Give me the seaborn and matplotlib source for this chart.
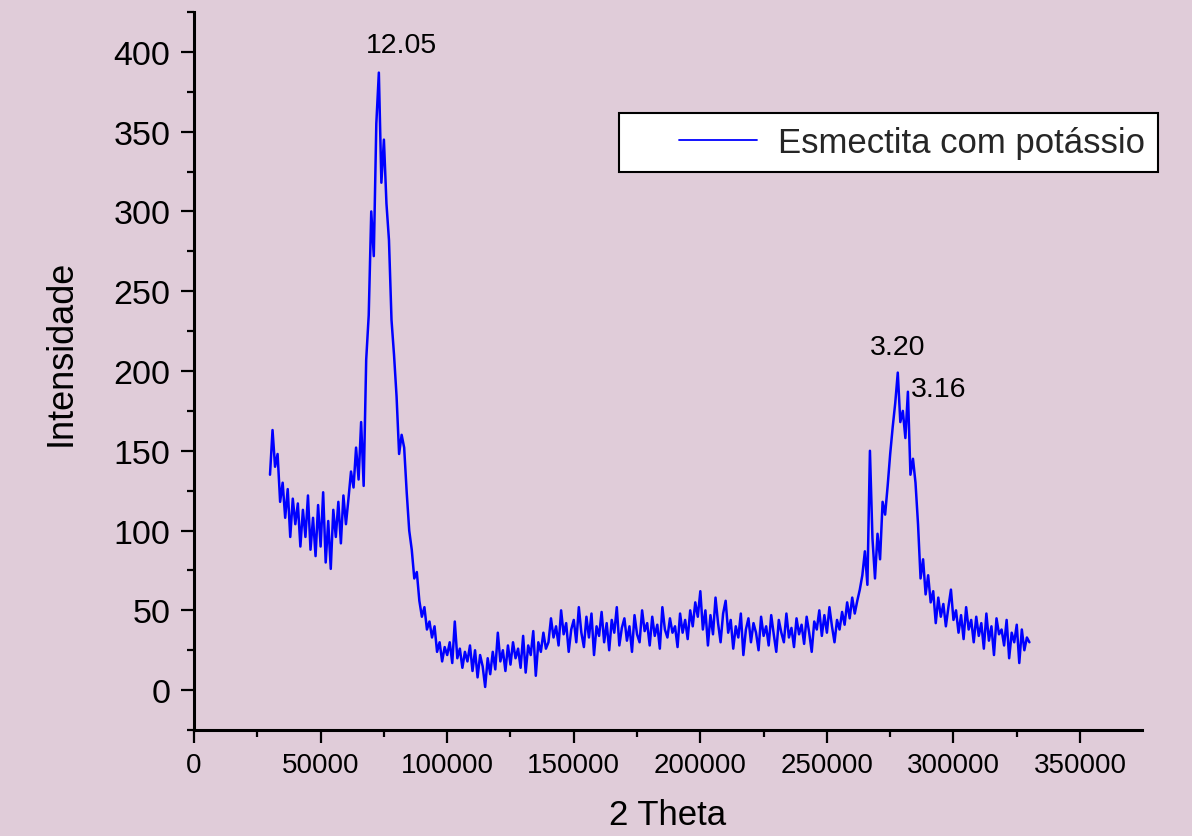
import numpy as np
import pandas as pd
import matplotlib
matplotlib.use("Agg")
import matplotlib.pyplot as plt
from matplotlib.ticker import MultipleLocator
import seaborn as sns

# 2 Theta positions, one reading every 1000 from 30000 to 330000
theta = np.arange(30000, 331000, 1000)

# intensities, ten per row (one row = 10000 on the x axis)
intensity = [
    135, 163, 140, 148, 118, 130, 108, 126, 96, 120,
    104, 117, 90, 113, 96, 122, 88, 108, 84, 116,
    90, 124, 80, 106, 76, 113, 96, 118, 92, 122,
    104, 120, 137, 127, 152, 132, 168, 128, 207, 235,
    300, 272, 355, 387, 318, 345, 305, 282, 232, 210,
    184, 148, 160, 152, 124, 100, 88, 70, 74, 56,
    46, 52, 38, 43, 33, 40, 24, 30, 18, 27,
    22, 30, 17, 43, 20, 26, 14, 24, 18, 28,
    12, 25, 8, 22, 15, 2, 20, 10, 24, 13,
    36, 18, 25, 12, 28, 16, 30, 20, 26, 14,
    34, 11, 28, 22, 37, 9, 30, 24, 36, 26,
    30, 45, 33, 40, 28, 50, 35, 42, 24, 38,
    44, 30, 52, 36, 27, 46, 33, 48, 22, 40,
    34, 49, 30, 42, 25, 44, 36, 52, 28, 39,
    45, 31, 40, 24, 47, 35, 30, 50, 37, 42,
    28, 46, 34, 41, 26, 52, 38, 33, 45, 36,
    40, 27, 48, 36, 44, 32, 50, 40, 55, 46,
    62, 38, 50, 28, 47, 35, 58, 42, 30, 48,
    56, 36, 44, 26, 40, 33, 48, 22, 38, 45,
    30, 42, 36, 25, 46, 34, 40, 28, 47, 35,
    24, 44, 36, 30, 48, 33, 39, 27, 45, 35,
    41, 29, 46, 36, 24, 43, 38, 50, 34, 47,
    36, 52, 40, 30, 44, 38, 49, 41, 55, 45,
    58, 48, 56, 63, 72, 87, 66, 150, 95, 70,
    98, 82, 118, 110, 128, 148, 165, 180, 199, 168,
    175, 158, 187, 135, 145, 130, 104, 70, 82, 60,
    72, 55, 62, 42, 58, 46, 54, 40, 52, 63,
    44, 50, 36, 47, 32, 52, 38, 44, 30, 46,
    34, 42, 26, 48, 31, 40, 22, 45, 35, 38,
    28, 44, 20, 36, 30, 41, 17, 38, 25, 33,
    30,
]

# peak labels (d-spacings) and where they sit
peak_labels = ["12.05", "3.20", "3.16"]
peak_x = [82000, 278000, 294000]
peak_y = [404, 215, 189]

df = pd.DataFrame({"2 Theta": theta, "Intensidade": intensity})

bg = "#E0CCD9"
sns.set_theme(style="ticks")
plt.rcParams["font.family"] = ["Liberation Sans", "DejaVu Sans"]

fig = plt.figure(figsize=(11.92, 8.37), dpi=100, facecolor=bg)
ax = fig.add_axes([0.1628, 0.1266, 0.7953, 0.8579])
ax.set_facecolor(bg)

sns.lineplot(data=df, x="2 Theta", y="Intensidade", color="#0000FF",
             linewidth=1.8, sort=False, label="Esmectita com potássio", ax=ax)

for txt, px, py in zip(peak_labels, peak_x, peak_y):
    ax.text(px, py, txt, ha="center", va="center", fontsize=20.5, color="black")

ax.set_xlim(0, 374500)
ax.set_ylim(-25, 425)
ax.xaxis.set_major_locator(MultipleLocator(50000))
ax.xaxis.set_minor_locator(MultipleLocator(25000))
ax.yaxis.set_major_locator(MultipleLocator(50))
ax.yaxis.set_minor_locator(MultipleLocator(25))

for side in ["top", "right"]:
    ax.spines[side].set_visible(False)
for side in ["left", "bottom"]:
    ax.spines[side].set_linewidth(2.2)
    ax.spines[side].set_color("black")

ax.tick_params(which="major", length=9.5, width=1.6, color="black",
               labelcolor="black", pad=6, direction="out")
ax.tick_params(which="minor", length=4.8, width=1.6, color="black", direction="out")
ax.tick_params(axis="y", labelsize=24.5, pad=7.5)
ax.tick_params(axis="x", labelsize=20)

ax.set_xlabel("2 Theta", fontsize=25, color="black")
ax.set_ylabel("Intensidade", fontsize=26, color="black")
ax.xaxis.set_label_coords(0.5, -0.095)
ax.yaxis.set_label_coords(-0.122, 0.526)

leg = ax.legend(loc="upper left", bbox_to_anchor=(0.448, 0.86), fontsize=25,
                frameon=True, fancybox=False, framealpha=1, edgecolor="black",
                handlelength=3.6, handletextpad=0.6, borderpad=0.38,
                borderaxespad=0)
leg.get_frame().set_linewidth(1.5)
leg.get_frame().set_facecolor("white")
# the handle line starts well inside the box, leaving blank space on the left
hl = leg.get_lines()[0]
xd = np.asarray(hl.get_xdata(), dtype=float)
hl.set_xdata(np.linspace(xd[0] + 0.38 * (xd[-1] - xd[0]), xd[-1], len(xd)))
hl.set_linewidth(1.3)

fig.savefig("out.png", dpi=100, facecolor=bg)
